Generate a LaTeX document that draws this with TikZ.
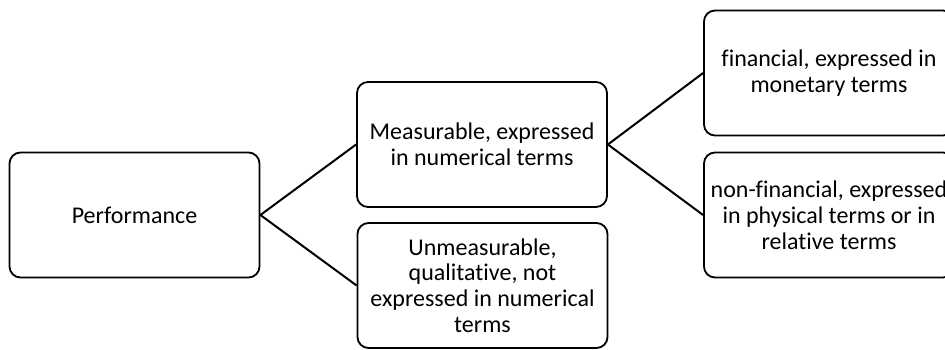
\documentclass[tikz,border=0pt]{standalone}
\usepackage{fontspec}
\setmainfont[Ligatures=NoCommon]{Carlito}
\begin{document}
\begin{tikzpicture}[x=1pt,y=1pt,
  box/.style={draw=black, line width=1.8pt, rounded corners=11pt, minimum width=250pt, minimum height=125pt, align=center, inner sep=0pt, font=\fontsize{24}{25.8}\selectfont},
  conn/.style={draw=black, line width=2pt}]
\useasboundingbox (0,0) rectangle (945,349);
\clip (0,0) rectangle (945,349);
\node[box] (perf) at (134.5,134) {Performance};
\node[box] (meas) at (482,204.5) {Measurable, expressed\\in numerical terms};
\node[box] (unm) at (482.5,63.5) {Unmeasurable,\\qualitative, not\\expressed in numerical\\terms};
\node[box] (fin) at (829,276) {financial, expressed in\\monetary terms};
\node[box] (nonf) at (829,134) {non-financial, expressed\\in physical terms or in\\relative terms};
\draw[conn] (perf.east) -- (meas.west);
\draw[conn] (perf.east) -- (unm.west);
\draw[conn] (meas.east) -- (fin.west);
\draw[conn] (meas.east) -- (nonf.west);
\end{tikzpicture}
\end{document}
